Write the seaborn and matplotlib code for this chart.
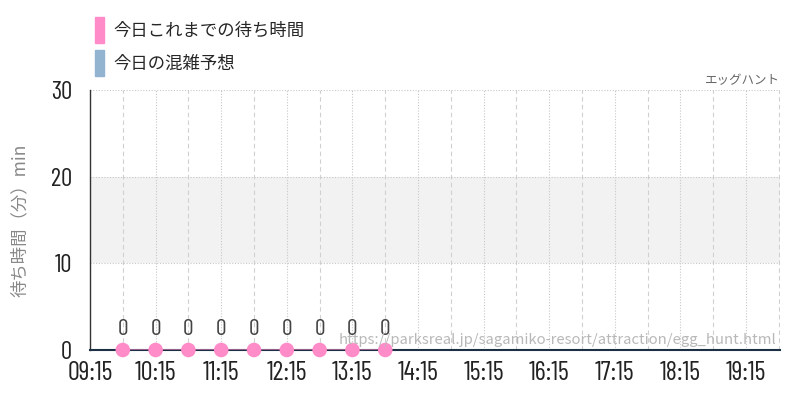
import pandas as pd
import matplotlib
matplotlib.use("Agg")
import matplotlib.pyplot as plt
import matplotlib.dates as mdates
from matplotlib.patches import Patch
import seaborn as sns

# data
times = ["09:45", "10:15", "10:45", "11:15", "11:45", "12:15", "12:45", "13:15", "13:45"]
waits = [0, 0, 0, 0, 0, 0, 0, 0, 0]
x_start = "09:15"
x_end = "19:46"
y_ticks = [0, 10, 20, 30]
band = (10, 20)
legend_labels = ["今日これまでの待ち時間", "今日の混雑予想"]
title_right = "エッグハント"
url = "https://parksreal.jp/sagamiko-resort/attraction/egg_hunt.html"

day = "2024-01-01 "
df = pd.DataFrame({"time": pd.to_datetime([day + t for t in times]), "wait": waits})

sns.set_style("white")
jp = ["Noto Sans CJK JP", "DejaVu Sans"]
narrow = ["Barlow Condensed", "Oswald", "Roboto", "DejaVu Sans"]
plt.rcParams["font.family"] = jp

pink = "#ff8cc8"
blue = "#92b4d0"

fig = plt.figure(figsize=(8, 4), dpi=100)
ax = fig.add_axes([0.1125, 0.125, 0.8625, 0.65])

ax.axhspan(*band, color="#f2f2f2", zorder=0, lw=0)

sns.lineplot(data=df, x="time", y="wait", ax=ax, color=pink, lw=2, alpha=0.6, zorder=3)
sns.scatterplot(data=df, x="time", y="wait", ax=ax, color=pink, s=110, edgecolor="none",
                zorder=4, clip_on=False)
for t, w in zip(df["time"], df["wait"]):
    ax.annotate(str(w), (t, w), xytext=(0, 7), textcoords="offset points", ha="center",
                va="bottom", fontsize=17, color="#444444", family=narrow, weight="normal")

ax.set_xlim(pd.Timestamp(day + x_start), pd.Timestamp(day + x_end))
ax.set_ylim(y_ticks[0], y_ticks[-1])
ax.set_yticks(y_ticks)

ax.xaxis.set_major_locator(mdates.MinuteLocator(byminute=[15]))
ax.xaxis.set_minor_locator(mdates.MinuteLocator(byminute=[45]))
ax.xaxis.set_major_formatter(mdates.DateFormatter("%H:%M"))

ax.grid(True, which="major", axis="both", color="#c8c8c8", ls=(0, (1, 1.5)), lw=0.8)
ax.grid(True, which="minor", axis="x", color="#d0d0d0", ls=(0, (4, 3)), lw=0.8)
ax.set_axisbelow(True)

ax.tick_params(axis="x", which="major", length=6, color="#cccccc", width=1, pad=2,
               labelsize=19, labelcolor="#222222")
ax.tick_params(axis="x", which="minor", length=0)
ax.tick_params(axis="y", length=10, color="#bbbbbb", width=1, pad=3,
               labelsize=18, labelcolor="#222222")
for lab in ax.get_xticklabels() + ax.get_yticklabels():
    lab.set_family(narrow)
    lab.set_weight("normal")

for s in ["top", "right"]:
    ax.spines[s].set_visible(False)
ax.spines["left"].set_color("#333333")
ax.spines["left"].set_linewidth(1)
ax.spines["bottom"].set_color("#1c2f45")
ax.spines["bottom"].set_linewidth(1.5)

ax.set_xlabel("")
ax.set_ylabel("待ち時間（分）min", fontsize=12.5, color="#888888", labelpad=16)

ax.text(1.0, 1.01, title_right, transform=ax.transAxes, ha="right", va="bottom",
        fontsize=9, color="#666666")
ax.text(0.995, 0.012, url, transform=ax.transAxes, ha="right", va="bottom",
        fontsize=10.7, color="#b8b8b8", zorder=5)

handles = [Patch(color=pink), Patch(color=blue)]
fig.legend(handles, legend_labels, loc="upper left", bbox_to_anchor=(0.11, 0.975),
           frameon=False, fontsize=12.5, handlelength=0.55, handleheight=1.9,
           handletextpad=0.5, labelspacing=0.45, borderaxespad=0)

fig.savefig("out.png", dpi=100)
